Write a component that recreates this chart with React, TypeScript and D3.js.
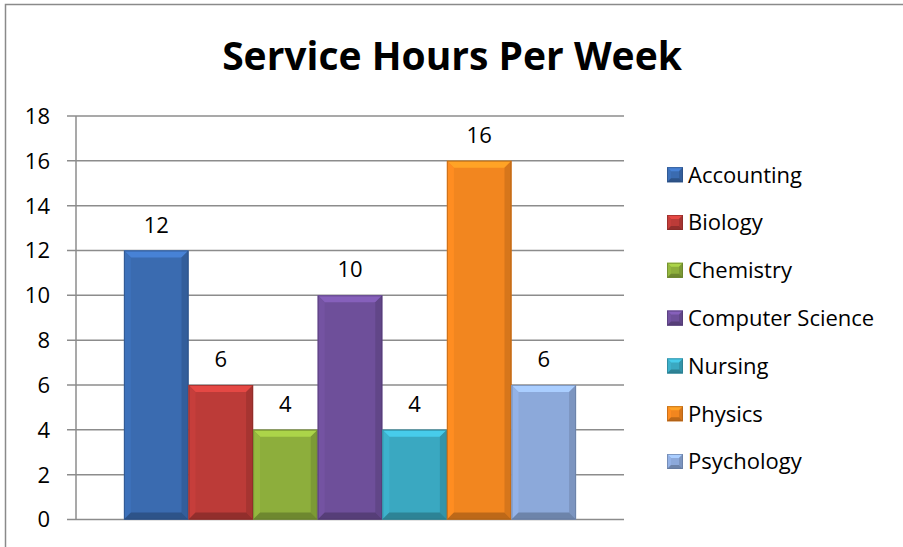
import React from "react";
import * as d3 from "d3";

const majors = ["Accounting", "Biology", "Chemistry", "Computer Science", "Nursing", "Physics", "Psychology"];
const hours = [12, 6, 4, 10, 4, 16, 6];
const colors = ["#3A6BB0", "#BC3B38", "#8DAE3C", "#6E4F9A", "#3AA8C1", "#F2861F", "#8CA9DA"];
const yTicks = [0, 2, 4, 6, 8, 10, 12, 14, 16, 18];

const W = 903;
const H = 547;
const plot = { left: 76, right: 624, top: 116, bottom: 519.5 };
const FONT = "'Open Sans', 'DejaVu Sans', sans-serif";

// draws a bar with an Excel-like bevel
const BevelRect = ({ x, y, w, h, color, b }: { x: number; y: number; w: number; h: number; color: string; b: number }) => {
  const c = d3.color(color)!;
  const pts = (arr: number[][]) => arr.map((p) => p.join(",")).join(" ");
  const bb = Math.min(b, h / 2, w / 2);
  return (
    <g>
      <rect x={x} y={y} width={w} height={h} fill={color} />
      <polygon points={pts([[x, y], [x + w, y], [x + w - bb, y + bb], [x + bb, y + bb]])} fill={c.brighter(0.55).toString()} />
      <polygon points={pts([[x, y], [x + bb, y + bb], [x + bb, y + h - bb], [x, y + h]])} fill={c.brighter(0.15).toString()} />
      <polygon points={pts([[x + w, y], [x + w, y + h], [x + w - bb, y + h - bb], [x + w - bb, y + bb]])} fill={c.darker(0.35).toString()} />
      <polygon points={pts([[x, y + h], [x + bb, y + h - bb], [x + w - bb, y + h - bb], [x + w, y + h]])} fill={c.darker(0.7).toString()} />
      <rect x={x + 0.5} y={y + 0.5} width={w - 1} height={h - 1} fill="none" stroke={c.darker(1).toString()} strokeOpacity={0.6} strokeWidth={1} />
    </g>
  );
};

export default function App() {
  const y = d3.scaleLinear().domain([0, 18]).range([plot.bottom, plot.top]);
  const outer = d3.scaleBand().domain(["all"]).range([plot.left, plot.right]).paddingInner(0).paddingOuter(0.106);
  const x = d3
    .scaleBand()
    .domain(majors)
    .range([outer("all")!, outer("all")! + outer.bandwidth()])
    .padding(0);

  return (
    <svg width={W} height={H} style={{ position: "fixed", left: 0, top: 0, background: "#fff" }} fontFamily={FONT}>
      <rect x={5.5} y={4.5} width={W + 10} height={H + 10} fill="#fff" stroke="#8a8a8a" strokeWidth={1.5} />

      <text x={452} y={70} textAnchor="middle" fontSize={39} fontWeight="bold" fill="#000">
        Service Hours Per Week
      </text>

      {/* gridlines and y axis */}
      {yTicks.map((t) => (
        <g key={t}>
          <line x1={67} x2={plot.right} y1={y(t)} y2={y(t)} stroke="#8c8c8c" strokeWidth={1.5} />
          <text x={50} y={y(t)} dy="0.36em" textAnchor="end" fontSize={22} fill="#000">
            {t}
          </text>
        </g>
      ))}
      <line x1={plot.left} x2={plot.left} y1={plot.top} y2={plot.bottom} stroke="#8c8c8c" strokeWidth={1.5} />

      {majors.map((m, i) => {
        const bx = x(m)!;
        const by = y(hours[i]);
        return (
          <g key={m}>
            <BevelRect x={bx} y={by} w={x.bandwidth()} h={plot.bottom - by} color={colors[i]} b={7} />
            <text x={bx + x.bandwidth() / 2} y={by - 18} textAnchor="middle" fontSize={22} fill="#000">
              {hours[i]}
            </text>
          </g>
        );
      })}

      {/* legend */}
      {majors.map((m, i) => {
        const cy = 174.7 + i * 47.8;
        return (
          <g key={m}>
            <BevelRect x={667} y={cy - 7.5} w={16} h={15} color={colors[i]} b={4} />
            <text x={688} y={cy} dy="0.36em" fontSize={22} fill="#000">
              {m}
            </text>
          </g>
        );
      })}
    </svg>
  );
}
